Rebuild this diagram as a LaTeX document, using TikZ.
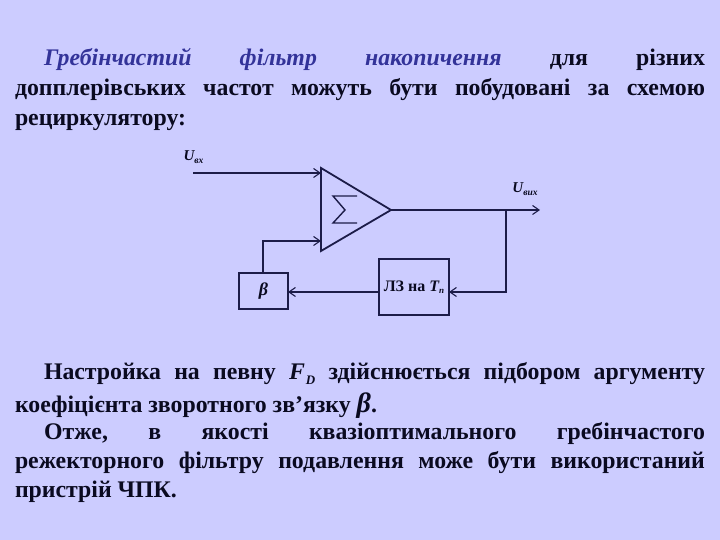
\documentclass[tikz,border=0pt]{standalone}
\usepackage{fontspec}
\setmainfont{Liberation Serif}
\usetikzlibrary{arrows.meta}
\definecolor{bgc}{HTML}{CCCCFF}
\definecolor{inkc}{HTML}{0A0A20}
\definecolor{linec}{HTML}{1C1C48}
\definecolor{headc}{HTML}{333399}
\newcommand{\jl}[2]{\hbox to #1pt{\ignorespaces #2\unskip}}
\newcommand{\gp}{\hfill}
\tikzset{
  textline/.style={anchor=base west,inner sep=0pt,outer sep=0pt,text=inkc,font=\fontsize{23.8}{26}\selectfont\bfseries},
  lbl/.style={inner sep=0pt,outer sep=0pt,text=inkc,font=\fontsize{15}{16}\selectfont\bfseries\itshape},
  block/.style={draw=linec,line width=1.8pt,inner sep=0pt,outer sep=0pt,fill=none},
  wire/.style={draw=linec,line width=1.2pt},
  arr/.style={wire,-{Straight Barb[length=6.5pt,width=9pt,line width=1.1pt]}},
  sigmaline/.style={draw=linec,line width=1.4pt},
  trianglec/.style={draw=linec,line width=1.8pt,line join=miter}
}
\begin{document}
\begin{tikzpicture}[x=1pt,y=1pt]
\useasboundingbox (0,0) rectangle (720,540);
\fill[bgc] (0,0) rectangle (720,540);
% text
\node[textline] (l1) at (44,474) {\jl{661}{\textcolor{headc}{\itshape Гребінчастий}\gp\textcolor{headc}{\itshape фільтр}\gp\textcolor{headc}{\itshape накопичення}\gp для\gp різних}};
\node[textline] (l2) at (15,444) {\jl{690}{допплерівських\gp частот\gp можуть\gp бути\gp побудовані\gp за\gp схемою}};
\node[textline] (l3) at (15,414.5) {рециркулятору:};
\node[textline] (l4) at (44,160) {\jl{661}{Настройка\gp на\gp певну\gp {\itshape F\kern1pt\raisebox{-5pt}{\fontsize{13}{14}\selectfont D}}\gp здійснюється\gp підбором\gp аргументу}};
\node[textline] (l5) at (15,127) {коефіцієнта зворотного зв’язку {\fontsize{28}{30}\selectfont\itshape β}.};
\node[textline] (l6) at (44,100) {\jl{661}{Отже,\gp в\gp якості\gp квазіоптимального\gp гребінчастого}};
\node[textline] (l7) at (15,71) {\jl{690}{режекторного\gp фільтру\gp подавлення\gp може\gp бути\gp використаний}};
\node[textline] (l8) at (15,42) {пристрій ЧПК.};
% diagram
\coordinate (tt) at (321,372);
\coordinate (tb) at (321,289);
\coordinate (ta) at (391,330);
\draw[trianglec] (tt) -- (ta) -- (tb) -- cycle;
\draw[sigmaline] (357,344) -- (333,344) -- (345,330) -- (333,317) -- (357,317);
\node[block,minimum width=49pt,minimum height=36pt,font=\fontsize{18}{19}\selectfont\bfseries\itshape,text=inkc] (beta) at (263.5,249) {β};
\node[block,minimum width=70pt,minimum height=56pt,font=\fontsize{16}{18}\selectfont\bfseries,text=inkc] (lz) at (414,253) {ЛЗ на {\itshape T\raisebox{-2.5pt}{\fontsize{9}{10}\selectfont п}}};
\node[lbl] (uin) at (193.5,383) {U\raisebox{-2.5pt}{\fontsize{9.5}{10}\selectfont вх}};
\node[lbl] (uout) at (525,351) {U\raisebox{-2.5pt}{\fontsize{9.5}{10}\selectfont вих}};
\coordinate (instart) at (193,367);
\coordinate (inend) at (321,367);
\coordinate (fbend) at (321,299);
\coordinate (fbcorner) at (263,299);
\coordinate (outend) at (540,330);
\coordinate (junc) at (506,330);
\coordinate (juncdown) at (506,248);
\coordinate (lzin) at (449,248);
\coordinate (lzout) at (379,248);
\coordinate (betain) at (288,248);
\coordinate (betaout) at (263,267);
\draw[arr] (instart) -- (inend);
\draw[arr] (ta) -- (outend);
\draw[arr] (betaout) -- (fbcorner) -- (fbend);
\draw[arr] (junc) -- (juncdown) -- (lzin);
\draw[arr] (lzout) -- (betain);
\end{tikzpicture}
\end{document}
